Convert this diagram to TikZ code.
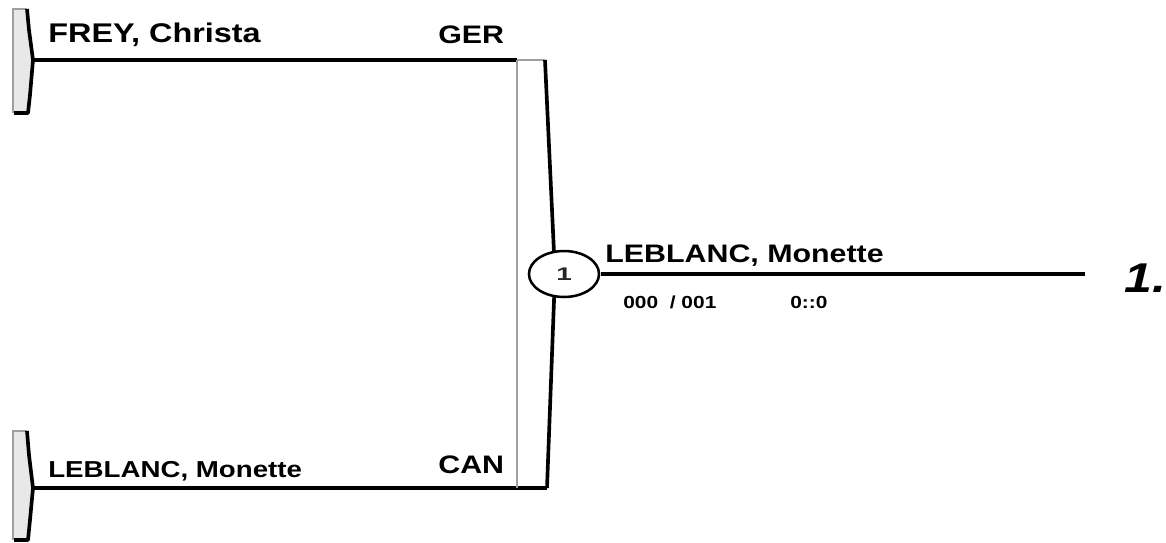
\documentclass[tikz,border=0pt]{standalone}
\usepackage{fontspec}
\setmainfont{Liberation Sans}
\usetikzlibrary{positioning}

\begin{document}
\begin{tikzpicture}[x=0.025cm, y=-0.025cm,
  every node/.style={inner sep=0pt, anchor=base west, xscale=1.2},
  athlete/.style={font=\fontsize{18}{18}\selectfont\bfseries},
  scoretxt/.style={font=\fontsize{12.4}{12}\selectfont\bfseries},
  placetxt/.style={font=\fontsize{29.6}{30}\selectfont\bfseries\itshape},
  entrant/.style={line width=2.5pt, black},
  grayedge/.style={line width=1.2pt, gray!75},
  darkedge/.style={line width=2.6pt, black, line join=round}]
\useasboundingbox (0,0) rectangle (1166,542);

% entry brackets
\fill[gray!18] (13,9) -- (27,9) -- (29,30) -- (33,60) -- (30,95) -- (28,113) -- (13,113) -- cycle;
\draw[grayedge] (13,113) -- (13,9) -- (27,9);
\draw[darkedge] (27,9) -- (29,30) -- (33,60) -- (30,95) -- (28,113) -- (14,113);
\fill[gray!18] (13,431) -- (27,431) -- (29,455) -- (33,488) -- (30,520) -- (28,540) -- (13,540) -- cycle;
\draw[grayedge] (13,540) -- (13,431) -- (27,431);
\draw[darkedge] (27,431) -- (29,455) -- (33,488) -- (30,520) -- (28,540) -- (14,540);

\coordinate (topTip) at (33,60);
\coordinate (botTip) at (33,488);
\coordinate (midTL) at (517,60);
\coordinate (midTR) at (545,60);
\coordinate (midBL) at (517,488);
\coordinate (midBR) at (547,488);
\coordinate (midTip) at (555,274);
\coordinate (winEnd) at (1085,274);

\draw[entrant] (topTip) -- (midTL);
\draw[entrant] (botTip) -- (midBR);
\draw[grayedge] (midTL) -- (midTR);
\draw[grayedge] (midTL) -- (midBL);
\draw[darkedge] (midTR) -- (midTip) -- (midBR);

\node[draw, circle, fill=white, line width=1.8pt, minimum size=32.7pt, anchor=center, xscale=1.27,
  font=\fontsize{13}{13}\selectfont\bfseries, text=black!85] (m1) at (564,274) {1};
\draw[entrant] (m1.east) -- (winEnd);

\node[athlete, font=\fontsize{19.2}{19}\selectfont\bfseries] (topName) at (48,42) {FREY, Christa};
\node[athlete] (topNat) at (438,43) {GER};
\node[athlete, font=\fontsize{16.4}{16}\selectfont\bfseries] (botName) at (48,477) {LEBLANC, Monette};
\node[athlete] (botNat) at (438,473) {CAN};
\node[athlete] (winName) at (605,262) {LEBLANC, Monette};
\node[scoretxt] (winScore) at (623,308) {000\ \ / 001};
\node[scoretxt] (winTime) at (790,308) {0::0};
\node[placetxt] (winPlace) at (1124,292) {1.};
\end{tikzpicture}
\end{document}
